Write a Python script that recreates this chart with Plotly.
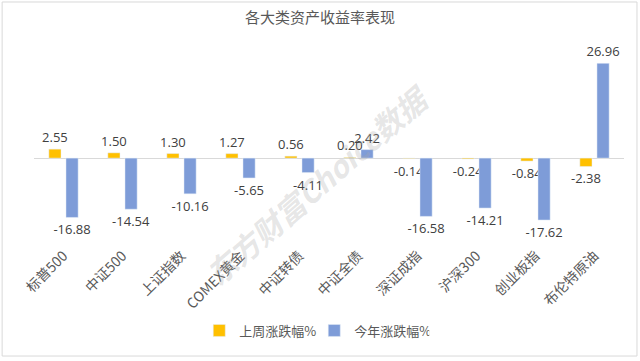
import plotly.graph_objects as go

categories = ["标普500", "中证500", "上证指数", "COMEX黄金", "中证转债",
              "中证全债", "深证成指", "沪深300", "创业板指", "布伦特原油"]
weekly = [2.55, 1.50, 1.30, 1.27, 0.56, 0.20, -0.14, -0.24, -0.84, -2.38]
yearly = [-16.88, -14.54, -10.16, -5.65, -4.11, 2.42, -16.58, -14.21, -17.62, 26.96]
series_names = ["上周涨跌幅%", "今年涨跌幅%"]
title_text = "各大类资产收益率表现"
watermark = "东方财富Choice数据"

FONT = "Noto Sans CJK SC, Noto Sans, sans-serif"
LBL = dict(family="Open Sans, Noto Sans CJK SC, sans-serif", size=13, color="#404040")

fig = go.Figure()
fig.add_trace(go.Bar(
    x=categories, y=weekly, name=series_names[0], marker_color="#FFC000",
    texttemplate="%{y:.2f}", textposition="outside", textfont=LBL,
    constraintext="none", cliponaxis=False))
fig.add_trace(go.Bar(
    x=categories, y=yearly, name=series_names[1], marker_color="#7E9CD8",
    texttemplate="%{y:.2f}", textposition="outside", textfont=LBL,
    constraintext="none", cliponaxis=False))

fig.update_layout(
    width=640, height=361,
    margin=dict(l=34, r=16, t=59, b=121),
    paper_bgcolor="white", plot_bgcolor="white",
    barmode="group", bargap=0.42, bargroupgap=0.29,
    font=dict(family=FONT, color="#595959"),
    title=dict(text=title_text, x=0.5, xanchor="center", y=0.95, yanchor="middle",
               font=dict(family=FONT, size=15, color="#595959")),
    showlegend=True,
    legend=dict(orientation="h", x=0.475, xanchor="center", y=-0.5, yanchor="middle",
                font=dict(family=FONT, size=13, color="#595959"),
                itemwidth=30, entrywidth=70, entrywidthmode="pixels",
                bgcolor="rgba(0,0,0,0)"),
    xaxis=dict(showline=False, showgrid=False, ticks="", tickangle=-45,
               tickfont=dict(family=FONT, size=14, color="#595959"),
               ticklabelstandoff=4),
    yaxis=dict(range=[-23.3, 28.2], visible=True, showticklabels=False, showgrid=False,
               zeroline=True, zerolinecolor="#D9D9D9", zerolinewidth=1, showline=False),
    shapes=[dict(type="rect", xref="paper", yref="paper",
                 x0=-0.054, x1=1.022, y0=-0.641, y1=1.315,
                 line=dict(color="#D9D9D9", width=1), fillcolor="rgba(0,0,0,0)",
                 layer="below")],
    annotations=[dict(text="<b><i>" + watermark + "</i></b>", xref="paper", yref="paper",
                      x=0.48, y=0.31, xanchor="center", yanchor="middle",
                      showarrow=False, textangle=-41,
                      font=dict(family=FONT, size=30, color="rgba(170,170,170,0.3)"))],
)

fig.write_html("out.html")
